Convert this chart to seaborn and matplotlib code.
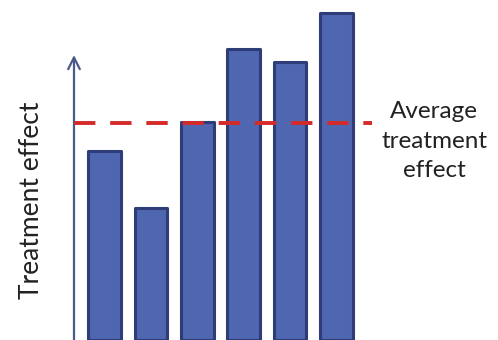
import matplotlib
matplotlib.use("Agg")
import matplotlib.pyplot as plt
import seaborn as sns
import pandas as pd

# Treatment effect per group (arbitrary units) and the average effect line
groups = ["A", "B", "C", "D", "E", "F"]
effects = [189, 132, 218, 291, 278, 327]
average_effect = 217

sns.set_theme(style="white")
plt.rcParams["font.family"] = ["Lato", "DejaVu Sans"]

df = pd.DataFrame({"group": groups, "effect": effects})

fig = plt.figure(figsize=(4.98, 3.40), dpi=100)
ax = fig.add_axes([74 / 498, 0.0, (372 - 74) / 498, 1.0])

sns.barplot(data=df, x="group", y="effect", ax=ax, color="#4F66B0",
            saturation=1, width=0.70, edgecolor="#2E3D78", linewidth=2.2)
for patch in ax.patches:
    patch.set_joinstyle("round")
    patch.set_clip_on(False)

ax.set_xlim(-0.657, 5.765)
ax.set_ylim(0, 340)

# Average treatment effect
ax.axhline(average_effect, color="#D42A2A", lw=2.8, ls=(0, (5.5, 3.8)),
           zorder=5, clip_on=False)

# Hide the frame and draw the y axis as an arrow
for s in ax.spines.values():
    s.set_visible(False)
ax.set_xticks([])
ax.set_yticks([])
ax.set_xlabel("")
ax.annotate("", xy=(0, 285 / 340), xytext=(0, -0.01), xycoords="axes fraction",
            arrowprops=dict(arrowstyle="->,head_length=0.7,head_width=0.35",
                            lw=1.6, color="#4A5A8A", shrinkA=0, shrinkB=0))

ax.set_ylabel("Treatment effect", fontsize=19, color="#222222")
ax.yaxis.set_label_coords(-30 / 298, 0.41)

fig.text(434 / 498, 1 - 141 / 340, "Average\ntreatment\neffect", ha="center",
         va="center", fontsize=17.5, color="#222222", linespacing=1.5)

fig.savefig("out.png", dpi=100, facecolor="white")
